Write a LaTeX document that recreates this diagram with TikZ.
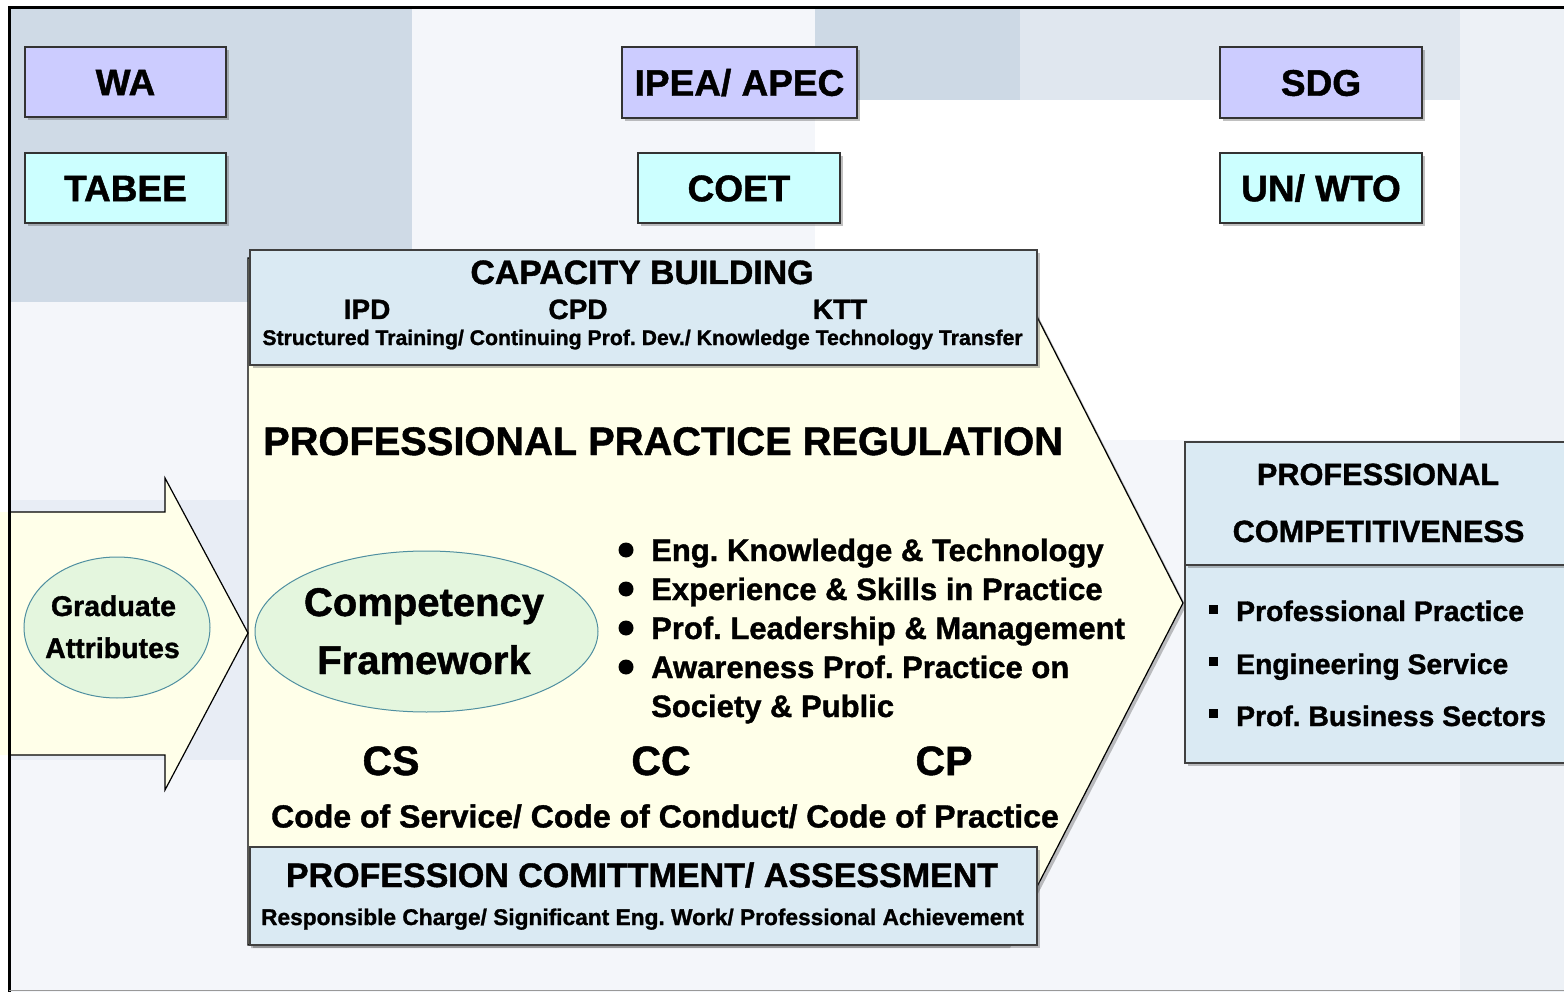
\documentclass[tikz,border=0pt]{standalone}
\usepackage{fontspec}
\setmainfont{Liberation Sans}[BoldFeatures={FakeBold=1.2}]
\usetikzlibrary{shapes.geometric,shadows}
\definecolor{lav}{HTML}{CCCCFF}
\definecolor{cyanb}{HTML}{CCFFFF}
\definecolor{lblue}{HTML}{DAEAF3}
\definecolor{lyel}{HTML}{FFFFE9}
\definecolor{lgreen}{HTML}{E4F6DE}
\definecolor{teal2}{HTML}{4F8FA0}
\definecolor{bgA}{HTML}{F4F6FA}
\definecolor{bgB}{HTML}{CFDAE6}
\definecolor{bgC}{HTML}{CDD9E5}
\definecolor{bgD}{HTML}{E0E7EF}
\definecolor{bgE}{HTML}{EDF1F6}
\definecolor{bgF}{HTML}{E8EDF5}
\newcommand\fz[1]{\bfseries\fontsize{#1}{#1}\selectfont}
\frenchspacing
\begin{document}
\frenchspacing
\begin{tikzpicture}[x=1pt,y=-1pt,
  shad/.style={drop shadow={shadow xshift=3pt,shadow yshift=-3pt,opacity=0.35,fill=black!70}},
  box/.style={draw=black!80,line width=1.4pt,shad,inner sep=0pt,text height=26.5pt,text depth=0pt,font=\fz{37}},
  panel/.style={draw=black!75,line width=1.4pt,fill=lblue,shad,inner sep=0pt},
  oval/.style={ellipse,draw=teal2,line width=1pt,fill=lgreen,inner sep=0pt},
  lbl/.style={inner sep=0pt,anchor=base},
  lblw/.style={inner sep=0pt,anchor=base west},
  dot/.style={circle,fill=black,inner sep=0pt,minimum size=15pt},
  sq/.style={rectangle,fill=black,inner sep=0pt,minimum size=9pt}]
\useasboundingbox (0,0) rectangle (1564,992);
\begin{scope}
\clip (0,0) rectangle (1564,992);
% background
\fill[white] (0,0) rectangle (1564,992);
\fill[bgA] (9,8) rectangle (1564,992);
\fill[bgB] (9,8) rectangle (412,302);
\fill[bgC] (815,8) rectangle (1020,100);
\fill[bgD] (1020,8) rectangle (1460,100);
\fill[white] (815,100) rectangle (1460,440);
\fill[bgE] (1460,8) rectangle (1564,992);
\fill[bgF] (9,500) rectangle (250,760);

% top boxes
\node[box,fill=lav,minimum width=201pt,minimum height=70pt] (wa) at (125.5,82) {WA};
\node[box,fill=cyanb,minimum width=201pt,minimum height=70pt] (tabee) at (125.5,188) {TABEE};
\node[box,fill=lav,minimum width=235pt,minimum height=71pt] (ipea) at (739.5,82.5) {IPEA/ APEC};
\node[box,fill=cyanb,minimum width=202pt,minimum height=70pt] (coet) at (739,188) {COET};
\node[box,fill=lav,minimum width=202pt,minimum height=71pt] (sdg) at (1321,82.5) {SDG};
\node[box,fill=cyanb,minimum width=202pt,minimum height=70pt] (unwto) at (1321,188) {UN/ WTO};

% big pentagon arrow
\path[fill=lyel,draw=black,line width=1.2pt,shad]
  (248,258) -- (1007,258) -- (1183,603) -- (1007,945) -- (248,945) -- cycle;

% left arrow
\fill[lyel] (0,512) -- (165,512) -- (165,478) -- (248,633) -- (165,790) -- (165,755) -- (0,755) -- cycle;
\draw[black,line width=1.2pt] (9,512) -- (165,512) -- (165,478) -- (248,633) -- (165,790) -- (165,755) -- (9,755);

% frame
\draw[line width=3pt] (8,8) -- (1564,8);
\draw[line width=3pt] (9,8) -- (9,992);
\draw[black!40,line width=1pt] (9,990) -- (1564,990);

% capacity building panel
\node[panel,minimum width=787pt,minimum height=115pt] (cap) at (643.5,307.5) {};
\node[lbl,font=\fz{33.8}] (capt) at (642,284) {CAPACITY BUILDING};
\node[lbl,font=\fz{28}] (ipd) at (367,319) {IPD};
\node[lbl,font=\fz{28}] (cpd) at (578,319) {CPD};
\node[lbl,font=\fz{28}] (ktt) at (840,319) {KTT};
\node[lbl,font=\fz{21.2}] (capsub) at (642.5,345) {Structured Training/ Continuing Prof. Dev./ Knowledge Technology Transfer};

% regulation title
\node[lblw,font=\fz{39.8}] (ppr) at (263,455) {PROFESSIONAL PRACTICE REGULATION};

% competency framework
\node[oval,minimum width=343pt,minimum height=161pt] (cf) at (426.5,631.5) {};
\node[lbl,font=\fz{40}] (cf1) at (424,616) {Competency};
\node[lbl,font=\fz{40}] (cf2) at (424,674) {Framework};

% graduate attributes
\node[oval,minimum width=186pt,minimum height=141pt] (ga) at (117,627.5) {};
\node[lbl,font=\fz{28.5}] (ga1) at (113.5,616) {Graduate};
\node[lbl,font=\fz{28.5}] (ga2) at (112.5,658) {Attributes};

% bullets
\node[dot] (d1) at (626,550) {};
\node[dot] (d2) at (626,589) {};
\node[dot] (d3) at (626,628) {};
\node[dot] (d4) at (626,667) {};
\node[lblw,font=\fz{31}] (b1) at (651,561) {Eng. Knowledge \& Technology};
\node[lblw,font=\fz{31}] (b2) at (651,600) {Experience \& Skills in Practice};
\node[lblw,font=\fz{31}] (b3) at (651,639) {Prof. Leadership \& Management};
\node[lblw,font=\fz{31}] (b4) at (651,678) {Awareness Prof. Practice on};
\node[lblw,font=\fz{31}] (b5) at (651,717) {Society \& Public};

% codes
\node[lbl,font=\fz{41}] (cs) at (391,775) {CS};
\node[lbl,font=\fz{41}] (cc) at (661,775) {CC};
\node[lbl,font=\fz{41}] (cp) at (944,775) {CP};
\node[lbl,font=\fz{32}] (codes) at (665,827.5) {Code of Service/ Code of Conduct/ Code of Practice};

% commitment panel
\node[panel,minimum width=787pt,minimum height=98pt] (com) at (643.5,896) {};
\node[lbl,font=\fz{34}] (comt) at (642,887) {PROFESSION COMITTMENT/ ASSESSMENT};
\node[lbl,font=\fz{22.7}] (comsub) at (642.5,925) {Responsible Charge/ Significant Eng. Work/ Professional Achievement};

% professional competitiveness
\node[panel,minimum width=395pt,minimum height=198pt] (pcb) at (1382.5,664) {};
\node[panel,minimum width=395pt,minimum height=123pt] (pch) at (1382.5,503.5) {};
\node[lbl,font=\fz{30.7}] (pc1) at (1378,485) {PROFESSIONAL};
\node[lbl,font=\fz{30.7}] (pc2) at (1378.5,542) {COMPETITIVENESS};
\node[sq] (s1) at (1213,609) {};
\node[sq] (s2) at (1213,661) {};
\node[sq] (s3) at (1213,713) {};
\node[lblw,font=\fz{28.3}] (p1) at (1236,621) {Professional Practice};
\node[lblw,font=\fz{28.3}] (p2) at (1236,674) {Engineering Service};
\node[lblw,font=\fz{28.3}] (p3) at (1236,726) {Prof. Business Sectors};
\end{scope}
\end{tikzpicture}
\end{document}
